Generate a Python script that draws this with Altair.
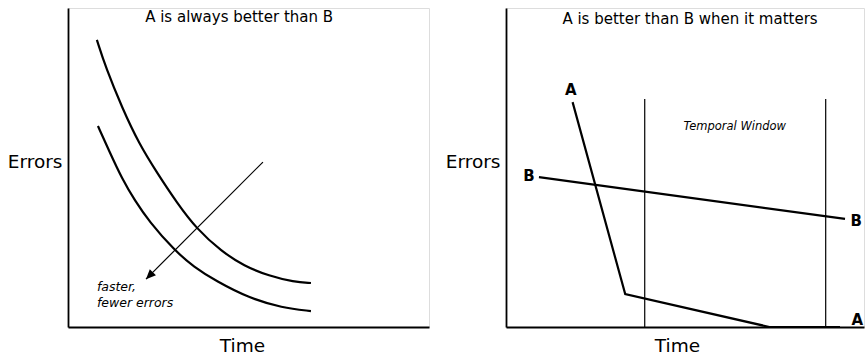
import altair as alt
import pandas as pd

# ---- left panel: two learning curves (time vs. errors) ----
curve_b_time = [8.0, 10.5, 15.0, 19.7, 24.7, 30.2, 35.7, 42.4, 48.8, 55.7, 62.6, 67.3]
curve_b_err = [90.0, 81.2, 68.7, 57.4, 48.3, 38.9, 30.7, 23.8, 19.1, 16.0, 14.1, 13.8]
curve_a_time = [8.3, 11.4, 15.0, 18.6, 22.4, 29.4, 34.9, 41.0, 50.1, 59.3, 67.3]
curve_a_err = [63.0, 55.2, 46.4, 39.5, 33.2, 24.1, 18.8, 14.4, 9.1, 6.0, 5.0]

arrow_start = (54.0, 51.7)
arrow_end = (21.6, 15.0)

# ---- right panel: A drops fast, B declines slowly ----
line_a_time = [18.6, 33.3, 73.6, 93.3]
line_a_err = [70.5, 10.3, 0.0, 0.0]
line_b_time = [9.2, 94.7]
line_b_err = [47.0, 33.9]
window_edges = [38.75, 89.3]
window_top = 71.5

FONT = "DejaVu Sans"
W_L, W_R, H = 361, 358, 319
DOMAIN = [0, 100]


def axes(time_title_x):
    x_axis = alt.Axis(
        title="Time", labels=False, ticks=False, grid=False,
        domainColor="black", domainWidth=1.8,
        titleFont=FONT, titleFontSize=18.5, titleFontWeight="normal",
        titleColor="black", titleX=time_title_x, titleY=18,
        titleBaseline="middle", titleAlign="center",
    )
    y_axis = alt.Axis(
        title="Errors", labels=False, ticks=False, grid=False,
        domainColor="black", domainWidth=1.8,
        titleFont=FONT, titleFontSize=18.5, titleFontWeight="normal",
        titleColor="black", titleAngle=0, titleAlign="right",
        titleBaseline="middle", titleX=-6, titleY=153,
    )
    return x_axis, y_axis


def enc(time_title_x):
    xa, ya = axes(time_title_x)
    x = alt.X("t:Q", scale=alt.Scale(domain=DOMAIN, nice=False), axis=xa)
    y = alt.Y("e:Q", scale=alt.Scale(domain=DOMAIN, nice=False), axis=ya)
    return x, y


# left panel
xl, yl = enc(174)
curves = pd.DataFrame(
    {"series": ["B"] * len(curve_b_time) + ["A"] * len(curve_a_time),
     "t": curve_b_time + curve_a_time,
     "e": curve_b_err + curve_a_err}
)
left_lines = alt.Chart(curves).mark_line(
    interpolate="basis", color="black", strokeWidth=2.2
).encode(x=xl, y=yl, detail="series:N")

arrow_df = pd.DataFrame({"t": [arrow_start[0]], "e": [arrow_start[1]],
                         "t2": [arrow_end[0]], "e2": [arrow_end[1]]})
arrow_line = alt.Chart(arrow_df).mark_rule(color="black", strokeWidth=1.2).encode(
    x=xl, y=yl, x2="t2:Q", y2="e2:Q"
)
head_df = pd.DataFrame({"t": [arrow_end[0]], "e": [arrow_end[1]]})
arrow_head = alt.Chart(head_df).mark_point(
    shape="M0,0L-0.45,1L0.45,1Z", filled=True, color="black", opacity=1,
    size=380, angle=225,
).encode(x=xl, y=yl)

note_df = pd.DataFrame({"t": [8.0], "e": [11.3], "label": ["faster,\nfewer errors"]})
left_note = alt.Chart(note_df).mark_text(
    align="left", baseline="alphabetic", font=FONT, fontSize=12.5,
    fontStyle="italic", lineBreak="\n", lineHeight=16, color="black",
).encode(x=xl, y=yl, text="label:N")

ltitle_df = pd.DataFrame({"t": [47.4], "e": [97.2], "label": ["A is always better than B"]})
left_title = alt.Chart(ltitle_df).mark_text(
    align="center", baseline="middle", font=FONT, fontSize=15, color="black"
).encode(x=xl, y=yl, text="label:N")

left = alt.layer(left_lines, arrow_line, arrow_head, left_note, left_title).properties(
    width=W_L, height=H
)

# right panel
xr, yr = enc(171)
lines = pd.DataFrame(
    {"series": ["A"] * len(line_a_time) + ["B"] * len(line_b_time),
     "t": line_a_time + line_b_time,
     "e": line_a_err + line_b_err}
)
right_lines = alt.Chart(lines).mark_line(color="black", strokeWidth=2.2).encode(
    x=xr, y=yr, detail="series:N"
)

win_df = pd.DataFrame({"t": window_edges, "e": [window_top] * 2, "e2": [0.0, 0.0]})
window = alt.Chart(win_df).mark_rule(color="black", strokeWidth=1.2).encode(
    x=xr, y=yr, y2="e2:Q"
)

lab_df = pd.DataFrame({
    "t": [18.1, 6.4, 97.8, 98.1],
    "e": [74.3, 47.3, 33.2, 2.2],
    "label": ["A", "B", "B", "A"],
})
labels = alt.Chart(lab_df).mark_text(
    align="center", baseline="middle", font=FONT, fontSize=15,
    fontWeight="bold", color="black",
).encode(x=xr, y=yr, text="label:N")

tw_df = pd.DataFrame({"t": [63.9], "e": [62.7], "label": ["Temporal Window"]})
temporal = alt.Chart(tw_df).mark_text(
    align="center", baseline="middle", font=FONT, fontSize=11.5,
    fontStyle="italic", color="black",
).encode(x=xr, y=yr, text="label:N")

rtitle_df = pd.DataFrame({"t": [51.4], "e": [96.6], "label": ["A is better than B when it matters"]})
right_title = alt.Chart(rtitle_df).mark_text(
    align="center", baseline="middle", font=FONT, fontSize=15, color="black"
).encode(x=xr, y=yr, text="label:N")

right = alt.layer(right_lines, window, labels, temporal, right_title).properties(
    width=W_R, height=H
)

chart = (
    alt.hconcat(left, right, spacing=77, bounds="flush")
    .properties(padding={"left": 6, "top": 7, "right": 0, "bottom": 0})
    .configure_view(strokeWidth=0)
    .configure(font=FONT, background="white")
)

chart.save("out.html", embed_options={"renderer": "svg", "actions": False})
